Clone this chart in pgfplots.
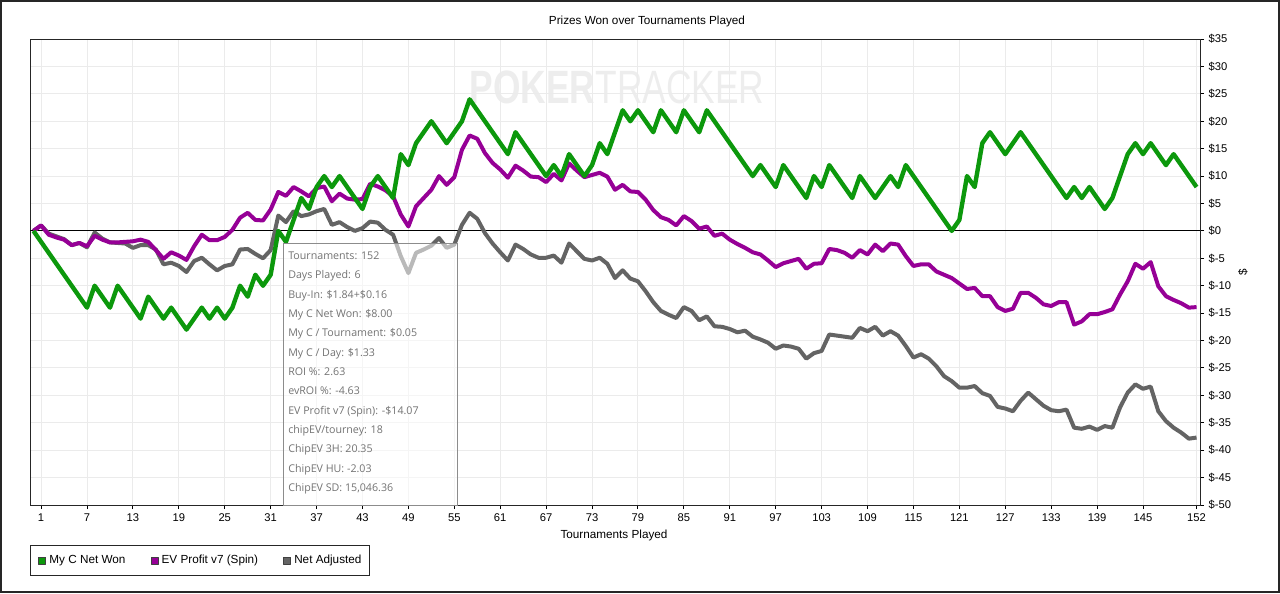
\documentclass[border=0pt]{standalone}
\usepackage{pgfplots}
\pgfplotsset{compat=1.18}
\usepackage{pgfplotstable}
\usepackage{graphicx}
\usepackage{fontspec}
\setmainfont{Liberation Sans}
\newfontfamily\tipfont{Open Sans}
\definecolor{cg}{RGB}{12,152,12}
\definecolor{cp}{RGB}{150,0,150}
\definecolor{cn}{RGB}{100,100,100}

\pgfplotstableread{
t g p n
0 0 0 0
1 -2 1.0 1.0
2 -4 -0.7 -0.5
3 -6 -1.2 -1.0
4 -8 -1.6 -1.5
5 -10 -2.6 -2.6
6 -12 -2.2 -2.2
7 -14 -2.8 -3.0
8 -10 -0.9 -0.3
9 -12 -1.6 -1.4
10 -14 -2.1 -2.1
11 -10 -2.1 -2.2
12 -12 -2.0 -2.3
13 -14 -1.9 -3.1
14 -16 -1.6 -2.6
15 -12 -2.0 -2.6
16 -14 -3.5 -3.4
17 -16 -5.1 -6.1
18 -14 -3.9 -5.8
19 -16 -4.5 -6.4
20 -18 -5.3 -7.5
21 -16 -2.8 -5.5
22 -14 -0.7 -4.9
23 -16 -1.7 -6.1
24 -14 -1.7 -7.2
25 -16 -1.1 -6.4
26 -14 0.2 -6.1
27 -10 2.4 -3.4
28 -12 3.3 -3.3
29 -8 2.0 -4.2
30 -10 1.9 -5.0
31 -8 3.9 -3.5
32 0 7.1 2.8
33 -2 6.4 1.6
34 2 8.0 3.6
35 6 7.2 2.7
36 4 6.3 3.0
37 8 7.8 3.6
38 10 8.1 4.0
39 8 5.4 1.1
40 10 6.8 1.6
41 8 5.9 0.7
42 6 5.7 0.0
43 4 5.8 0.5
44 8 8.6 1.7
45 10 8.1 1.5
46 8 7.4 0.2
47 6 6.3 -0.7
48 14 3.0 -4.6
49 12 0.8 -7.7
50 16 4.5 -4.0
51 18 6.0 -3.4
52 20 7.5 -2.7
53 18 10.0 -1.3
54 16 8.4 -3.1
55 18 9.8 -2.5
56 20 14.8 1.1
57 24 17.4 3.3
58 22 16.8 2.2
59 20 14.2 -0.4
60 18 12.4 -2.3
61 16 11.2 -3.9
62 14 9.7 -5.4
63 18 11.9 -2.5
64 16 11.0 -3.3
65 14 9.9 -4.3
66 12 9.8 -4.9
67 10 8.9 -4.9
68 12 10.4 -4.5
69 10 9.2 -5.8
70 14 12.3 -2.3
71 12 11.0 -3.7
72 10 9.8 -5.1
73 12 10.2 -5.4
74 16 10.6 -4.9
75 14 9.9 -6.0
76 18 7.5 -8.6
77 22 8.4 -7.2
78 20 7.2 -8.7
79 22 7.1 -9.2
80 20 5.7 -11.0
81 18 3.8 -13.0
82 22 2.5 -14.6
83 20 2.0 -15.3
84 18 1.0 -15.9
85 22 2.7 -13.9
86 20 1.8 -14.6
87 18 0.4 -16.3
88 22 0.8 -15.6
89 20 -0.9 -17.4
90 18 -0.5 -17.5
91 16 -1.6 -17.9
92 14 -2.4 -18.5
93 12 -3.1 -18.2
94 10 -3.9 -19.3
95 12 -4.3 -19.8
96 10 -5.4 -20.4
97 8 -6.6 -21.5
98 12 -5.9 -20.9
99 10 -5.5 -21.1
100 8 -5.1 -21.5
101 6 -6.9 -23.3
102 10 -6.0 -22.3
103 8 -5.9 -21.9
104 12 -3.3 -18.9
105 10 -3.5 -19.1
106 8 -4.0 -19.3
107 6 -4.9 -19.5
108 10 -3.5 -17.7
109 8 -4.3 -18.3
110 6 -2.5 -17.5
111 8 -3.7 -19.1
112 10 -2.3 -18.3
113 8 -2.5 -19.1
114 12 -4.6 -21.0
115 10 -6.4 -23.1
116 8 -6.1 -22.5
117 6 -6.1 -23.3
118 4 -7.4 -24.7
119 2 -8.0 -26.5
120 0 -8.6 -27.4
121 2 -9.6 -28.6
122 10 -10.6 -28.6
123 8 -10.4 -28.3
124 16 -11.9 -29.6
125 18 -11.9 -30.1
126 16 -13.9 -32.1
127 14 -14.6 -32.4
128 16 -14.2 -32.9
129 18 -11.3 -31.0
130 16 -11.3 -29.5
131 14 -12.2 -30.7
132 12 -13.4 -31.9
133 10 -13.7 -32.7
134 8 -13.0 -32.9
135 6 -13.0 -32.6
136 8 -17.1 -35.9
137 6 -16.5 -36.1
138 8 -15.2 -35.7
139 6 -15.2 -36.3
140 4 -14.8 -35.6
141 6 -14.3 -35.9
142 10 -11.6 -32.2
143 14 -9.2 -29.5
144 16 -6.0 -28.0
145 14 -6.9 -28.8
146 16 -5.7 -28.4
147 14 -10.1 -32.9
148 12 -11.9 -34.7
149 14 -12.6 -35.9
150 12 -13.2 -36.8
151 10 -14.0 -37.9
152 8 -13.9 -37.7
}\data

\begin{document}
\begin{tikzpicture}[x=0.75pt,y=0.75pt]
\useasboundingbox (0,0) rectangle (1280,593);
% watermark
\node[inner sep=0, text=black!7] at (617,506)
  {\resizebox{221pt}{24.5pt}{{\bfseries POKER}TRACKER}};
\begin{axis}[
  at={(22.5pt,66pt)}, anchor=south west,
  width=877.5pt, height=349.5pt, scale only axis,
  xmin=-0.45, xmax=152.45, ymin=-50, ymax=35,
  xtick={1,7,13,19,25,31,37,43,49,55,61,67,73,79,85,91,97,103,109,115,121,127,133,139,145,152},
  xticklabels={1,7,13,19,25,31,37,43,49,55,61,67,73,79,85,91,97,103,109,115,121,127,133,139,145,152},
  ytick={-50,-45,-40,-35,-30,-25,-20,-15,-10,-5,0,5,10,15,20,25,30,35},
  yticklabels={\$-50,\$-45,\$-40,\$-35,\$-30,\$-25,\$-20,\$-15,\$-10,\$-5,\$0,\$5,\$10,\$15,\$20,\$25,\$30,\$35},
  xtick pos=left, ytick pos=right, yticklabel pos=right,
  tick align=outside, major tick length=3pt,
  tick style={black, line width=0.75pt},
  grid=major, major grid style={black!8, line width=0.75pt},
  axis line style={black!85, line width=0.75pt},
  /pgf/number format/assume math mode=true,
  ticklabel style={font=\fontsize{8.4}{10}\selectfont},
  yticklabel style={anchor=west},
  legend columns=3, reverse legend,
  legend style={at={(0,-0.0858)}, anchor=north west, draw=black!85, line width=0.75pt,
    inner xsep=4.4pt, inner ysep=5.4pt, font=\fontsize{8.8}{10}\selectfont,
    /tikz/every even column/.append style={column sep=15.3pt}},
  legend cell align=left,
]
\addplot[black, line width=0.75pt, forget plot] coordinates {(-0.45,0) (152.45,0)};
\addplot[cn, line width=3pt, line join=round,
  legend image code/.code={\path[draw=none] (0pt,0pt) -- (7.8pt,0pt);
    \filldraw[fill=cn, draw=black!75, line width=0.6pt] (1.8pt,-2.6pt) rectangle (7.05pt,2.6pt);}]
  table[x=t,y=n]{\data};
\addlegendentry{Net Adjusted}
\addplot[cp, line width=3pt, line join=round,
  legend image code/.code={\path[draw=none] (0pt,0pt) -- (7.8pt,0pt);
    \filldraw[fill=cp, draw=black!75, line width=0.6pt] (1.8pt,-2.6pt) rectangle (7.05pt,2.6pt);}]
  table[x=t,y=p]{\data};
\addlegendentry{EV Profit v7 (Spin)}
\addplot[cg, line width=3.3pt, line join=round,
  legend image code/.code={\path[draw=none] (0pt,0pt) -- (7.8pt,0pt);
    \filldraw[fill=cg, draw=black!75, line width=0.6pt] (1.8pt,-2.6pt) rectangle (7.05pt,2.6pt);}]
  table[x=t,y=g]{\data};
\addlegendentry{My C Net Won}
\end{axis}
% titles
\node[font=\fontsize{8.8}{10}\selectfont] at (647,572) {Prizes Won over Tournaments Played};
\node[font=\fontsize{8.8}{10}\selectfont] at (614,58) {Tournaments Played};
\node[font=\fontsize{8.8}{10}\selectfont, rotate=90] at (1243,321) {\$};
% tooltip
\filldraw[fill=white, fill opacity=0.55, draw=black!45, line width=0.75pt] (283.5,88) rectangle (457,349);
\begin{scope}[every node/.style={anchor=base west, inner sep=0pt, text=black!55, font=\tipfont\fontsize{8}{9}\selectfont}]
\node at (288,333.5) {Tournaments: 152};
\node at (288,314.17) {Days Played: 6};
\node at (288,294.84) {Buy-In: \$1.84+\$0.16};
\node at (288,275.51) {My C Net Won: \$8.00};
\node at (288,256.18) {My C / Tournament: \$0.05};
\node at (288,236.85) {My C / Day: \$1.33};
\node at (288,217.52) {ROI \%: 2.63};
\node at (288,198.19) {evROI \%: -4.63};
\node at (288,178.86) {EV Profit v7 (Spin): -\$14.07};
\node at (288,159.53) {chipEV/tourney: 18};
\node at (288,140.2) {ChipEV 3H: 20.35};
\node at (288,120.87) {ChipEV HU: -2.03};
\node at (288,101.54) {ChipEV SD: 15,046.36};
\end{scope}
% outer frame
\draw[black!85, line width=1.2pt] (0.8,1.3) rectangle (1279.2,592.2);
\end{tikzpicture}
\end{document}
